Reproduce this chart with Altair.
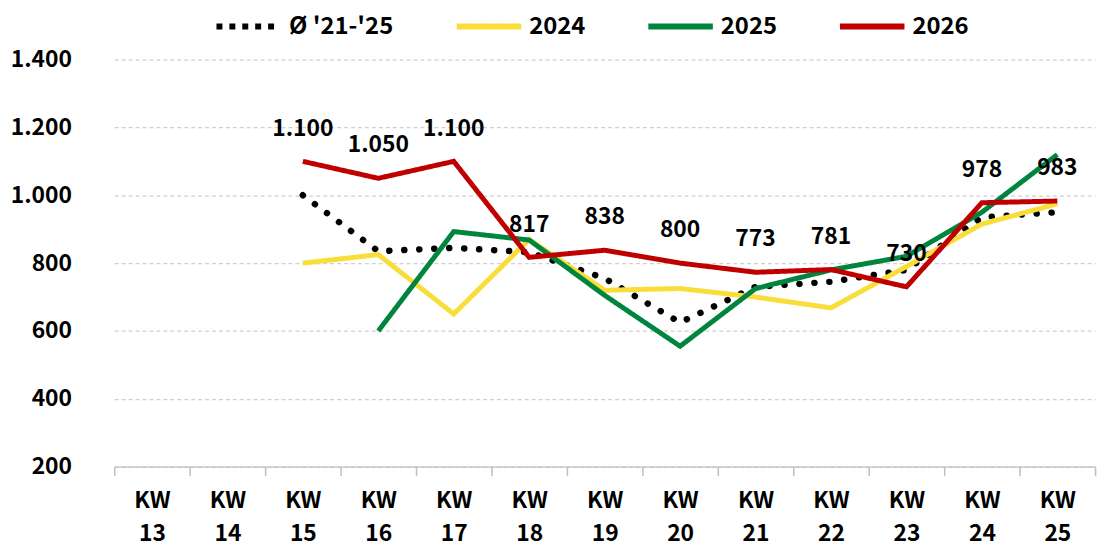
import altair as alt
import pandas as pd

weeks = ["13", "14", "15", "16", "17", "18", "19", "20", "21", "22", "23", "24", "25"]
series_names = ["Ø '21-'25", "2024", "2025", "2026"]
avg_21_25 = [None, None, 1000, 835, 845, 832, 755, 625, 730, 745, 780, 935, 950]
y2024 = [None, None, 800, 825, 650, 870, 720, 725, 700, 668, 790, 915, 975]
y2025 = [None, None, None, 600, 893, 868, 705, 555, 725, 780, 820, 950, 1120]
y2026 = [None, None, 1100, 1050, 1100, 817, 838, 800, 773, 781, 730, 978, 983]
y_ticks = [200, 400, 600, 800, 1000, 1200, 1400]
colors = ["#000000", "#F9DE3A", "#00853F", "#C00000"]

rows = []
for name, vals in zip(series_names, [avg_21_25, y2024, y2025, y2026]):
    for w, v in zip(weeks, vals):
        if v is not None:
            rows.append({"KW": w, "Serie": name, "Wert": v})
df = pd.DataFrame(rows)

FONT = "Noto Sans CJK KR"
de_fmt = "replace(format(datum.value, ','), ',', '.')"

x = alt.X(
    "KW:N",
    sort=weeks,
    scale=alt.Scale(type="band", domain=weeks, paddingInner=0, paddingOuter=0),
    axis=alt.Axis(
        title=None, labelAngle=0,
        labelExpr="datum.value ? ['KW', datum.value] : ''",
        tickBand="extent", tickSize=9, tickColor="#BFBFBF", tickWidth=1.5,
        domainColor="#BFBFBF", domainWidth=1.5, labelPadding=14,
        labelFont=FONT, labelFontSize=23, labelFontWeight="bold",
        labelColor="#000000", labelLineHeight=33, labelBaseline="top", grid=False,
    ),
)
y = alt.Y(
    "Wert:Q",
    scale=alt.Scale(domain=[200, 1400], nice=False, zero=False),
    axis=alt.Axis(
        title=None, values=y_ticks, labelExpr=de_fmt, domain=False, ticks=False,
        grid=True, gridColor="#D0D0D0", gridDash=[4, 3], gridWidth=1.2,
        labelPadding=43, labelFont=FONT, labelFontSize=23, labelFontWeight="bold",
        labelColor="#000000",
    ),
)

legend = alt.Legend(
    title=None, orient="none", legendX=100, legendY=-69, direction="horizontal",
    symbolType="stroke", symbolSize=4225, symbolStrokeWidth=6,
    labelFont=FONT, labelFontSize=24, labelFontWeight="bold", labelColor="#000000",
    labelOffset=5, columnPadding=51, padding=0,
)
color = alt.Color("Serie:N", scale=alt.Scale(domain=series_names, range=colors), legend=legend)
dash = alt.StrokeDash(
    "Serie:N",
    scale=alt.Scale(domain=series_names, range=[[6, 7], [1, 0], [1, 0], [1, 0]]),
    legend=legend,
)

base = alt.Chart(df)

avg_line = base.transform_filter(alt.datum.Serie == series_names[0]).mark_line(
    color="#000000", strokeWidth=6.5, strokeDash=[0.1, 15], strokeCap="round"
).encode(x=x, y=y)

year_lines = base.transform_filter(alt.datum.Serie != series_names[0]).mark_line(
    strokeWidth=5, strokeJoin="miter"
).encode(x=x, y=y, color=color, strokeDash=dash, order=alt.Order("KW:N"))

labels = base.transform_filter(alt.datum.Serie == "2026").transform_calculate(
    label="replace(format(datum.Wert, ','), ',', '.')"
).mark_text(
    dy=-33, font=FONT, fontSize=23, fontWeight="bold", color="#000000", baseline="middle"
).encode(x=x, y=y, text="label:N")

chart = alt.layer(avg_line, year_lines, labels).properties(
    width=988, height=410,
    autosize=alt.AutoSizeParams(type="none"),
    padding={"left": 107, "top": 50, "right": 10, "bottom": 80},
).configure_view(stroke=None)

chart.save("out.html", embed_options={"renderer": "svg", "actions": False})
